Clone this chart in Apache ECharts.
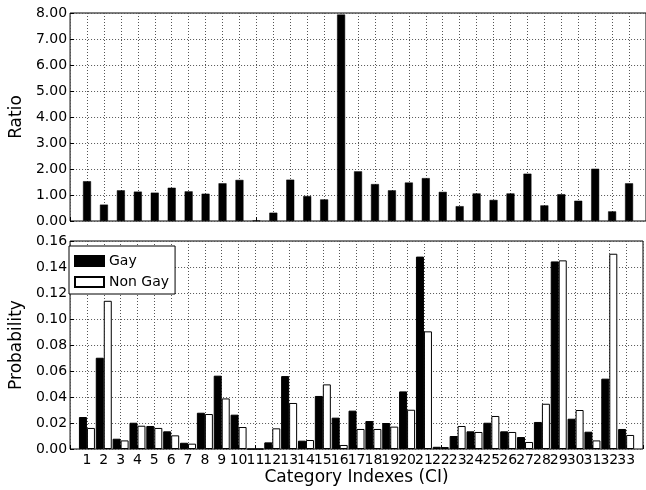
<!DOCTYPE html>
<html>
<head>
<meta charset="utf-8">
<script src="https://cdn.jsdelivr.net/npm/echarts@6/dist/echarts.min.js"></script>
<style>
html,body{margin:0;padding:0;background:#fff;}
#chart{width:646px;height:490px;}
</style>
</head>
<body>
<div id="chart"></div>
<script>
const categories = [1,2,3,4,5,6,7,8,9,10,11,12,13,14,15,16,17,18,19,20,21,22,23,24,25,26,27,28,29,30,31,32,33];
const ratio = [1.53,0.63,1.18,1.13,1.09,1.28,1.14,1.05,1.45,1.58,0.02,0.32,1.59,0.96,0.83,7.94,1.91,1.42,1.18,1.48,1.65,1.12,0.57,1.06,0.81,1.06,1.82,0.60,1.03,0.78,2.01,0.37,1.45];
const gay = [0.0246,0.0702,0.0079,0.0202,0.0177,0.0136,0.0048,0.0279,0.0564,0.0264,0,0.0051,0.0561,0.0064,0.0408,0.0241,0.0295,0.0215,0.0200,0.0443,0.1480,0.0017,0.0100,0.0136,0.0202,0.0136,0.0092,0.0208,0.1443,0.0233,0.0133,0.0541,0.0154];
const nonGay = [0.0162,0.1140,0.0066,0.0179,0.0162,0.0105,0.0041,0.0269,0.0389,0.0169,0,0.0159,0.0354,0.0069,0.0497,0.0031,0.0154,0.0154,0.0172,0.0302,0.0905,0.0015,0.0177,0.0131,0.0254,0.0131,0.0054,0.0348,0.1451,0.0300,0.0066,0.1502,0.0108];
const seriesNames = ['Gay','Non Gay'];
const topTitle = 'Ratio';
const bottomTitle = 'Probability';
const xTitle = 'Category Indexes (CI)';

const FONT = 'DejaVu Sans';
const chart = echarts.init(document.getElementById('chart'), null, {renderer:'canvas'});
const pair = arr => categories.map((c,i)=>[c, arr[i]]);
const gridLine = {show:true, lineStyle:{color:'#555', type:[1,2], width:1}};
function xAxis(gi, showLabels){
  return {
    type:'value', gridIndex:gi, min:0, max:34, interval:1,
    axisLine:{show:false},
    axisTick:{show:true, inside:true, length:4, lineStyle:{color:'#000'}},
    axisLabel:{show:showLabels, margin:4, fontFamily:FONT, fontSize:14, color:'#000',
      formatter: v => (v>=1 && v<=33) ? String(v) : ''},
    splitLine: gridLine,
    name: showLabels ? xTitle : '', nameLocation:'middle', nameGap:20,
    nameTextStyle:{fontFamily:FONT, fontSize:17, color:'#000'}
  };
}
function yAxis(gi, max, interval, title){
  return {
    type:'value', gridIndex:gi, min:0, max:max, interval:interval,
    axisLine:{show:false},
    axisTick:{show:true, inside:true, length:4, lineStyle:{color:'#000'}},
    axisLabel:{margin:3, fontFamily:FONT, fontSize:14, color:'#000', formatter: v => v.toFixed(2)},
    splitLine: gridLine,
    name:title, nameLocation:'middle', nameRotate:90, nameGap:36,
    nameTextStyle:{fontFamily:FONT, fontSize:17, color:'#000'}
  };
}
chart.setOption({
  animation:false,
  backgroundColor:'#fff',
  grid:[
    {left:61, top:13, width:590, height:208, show:true, borderColor:'#000', borderWidth:1, backgroundColor:'transparent'},
    {left:61, top:241, width:590, height:208, show:true, borderColor:'#000', borderWidth:1, backgroundColor:'transparent'}
  ],
  xAxis:[xAxis(0,false), xAxis(1,true)],
  yAxis:[yAxis(0,8,1,topTitle), yAxis(1,0.16,0.02,bottomTitle)],
  legend:{
    left:69, top:246, orient:'vertical', itemWidth:29, itemHeight:10, itemGap:7,
    padding:[8,6,5,5], borderColor:'#000', borderWidth:1, backgroundColor:'#fff',
    icon:'rect',
    textStyle:{fontFamily:FONT, fontSize:14, color:'#000'},
    data:seriesNames
  },
  series:[
    {type:'bar', xAxisIndex:0, yAxisIndex:0, data:pair(ratio), barWidth:8,
     itemStyle:{color:'#000', borderColor:'#000', borderWidth:0.5}},
    {type:'bar', name:seriesNames[0], xAxisIndex:1, yAxisIndex:1, data:pair(gay), barWidth:8, barGap:'0%',
     itemStyle:{color:'#000', borderColor:'#000', borderWidth:1}},
    {type:'bar', name:seriesNames[1], xAxisIndex:1, yAxisIndex:1, data:pair(nonGay), barWidth:8, barGap:'0%',
     itemStyle:{color:'#fff', borderColor:'#000', borderWidth:1}}
  ]
});
</script>
</body>
</html>
